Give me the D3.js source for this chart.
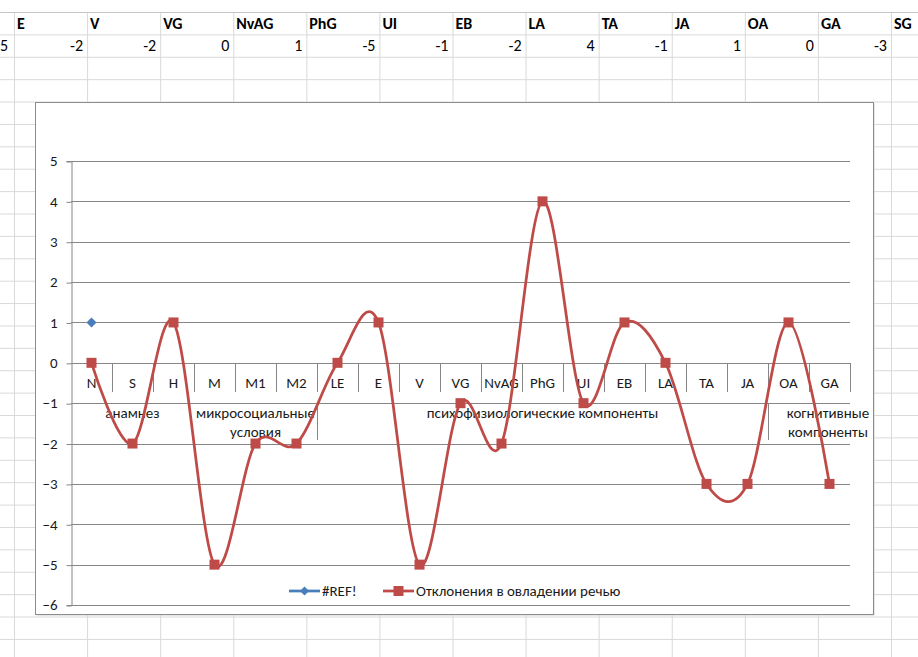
<!DOCTYPE html>
<html>
<head>
<meta charset="utf-8">
<script src="https://cdn.jsdelivr.net/npm/d3@7"></script>
<style>
  body { margin: 0; background: #fff; }
  svg text { font-family: Calibri, Carlito, "Noto Sans", sans-serif; }
</style>
</head>
<body>
<div id="chart"></div>
<script>
// spreadsheet row above the chart
var sheetHeaders = ["E", "V", "VG", "NvAG", "PhG", "UI", "EB", "LA", "TA", "JA", "OA", "GA", "SG"];
var sheetValues = [-2, -2, 0, 1, -5, -1, -2, 4, -1, 1, 0, -3];

// chart data
var categories = ["N", "S", "H", "M", "M1", "M2", "LE", "E", "V", "VG", "NvAG", "PhG", "UI", "EB", "LA", "TA", "JA", "OA", "GA"];
var speechValues = [0, -2, 1, -5, -2, -2, 0, 1, -5, -1, -2, 4, -1, 1, 0, -3, -3, 1, -3];
var refValues = [1];   // "#REF!" series, only first point
var groups = [
  { name: ["анамнез"], from: 0, to: 2, shift: 0 },
  { name: ["микросоциальные", "условия"], from: 3, to: 5, shift: 0 },
  { name: ["психофизиологические компоненты"], from: 6, to: 16, shift: 0 },
  { name: ["когнитивные", "компоненты"], from: 17, to: 18, shift: 19 }
];
var yTicks = [5, 4, 3, 2, 1, 0, -1, -2, -3, -4, -5, -6];
var seriesNames = ["#REF!", "Отклонения в овладении речью"];

var W = 918, H = 657;
var red = "#be4b48", blue = "#4a7ebb";
var fs = "15px";

var svg = d3.select("#chart").append("svg")
  .attr("width", W).attr("height", H);

// ---- spreadsheet grid in the background
var colW = 73.08, col0 = 14, rowH = 22.39, row0 = 12;
var grid = svg.append("g");
for (var i = 0; i < 14; i++) {
  grid.append("line")
    .attr("x1", col0 + i * colW + 0.5).attr("x2", col0 + i * colW + 0.5)
    .attr("y1", row0).attr("y2", H)
    .attr("stroke", "#d9d9d9");
}
for (var r = 0; r < 30; r++) {
  grid.append("line")
    .attr("x1", 0).attr("x2", W)
    .attr("y1", row0 + r * rowH + 0.5).attr("y2", row0 + r * rowH + 0.5)
    .attr("stroke", r == 0 ? "#c6c6c6" : "#d9d9d9");
}
grid.selectAll("text.hdr")
  .data(sheetHeaders)
  .enter().append("text")
  .attr("class", "hdr")
  .attr("x", function (d, i) { return col0 + i * colW + 3; })
  .attr("y", 29)
  .style("font-size", "16px")
  .style("font-weight", "bold")
  .text(function (d) { return d; });
grid.selectAll("text.val")
  .data(sheetValues)
  .enter().append("text")
  .attr("class", "val")
  .attr("x", function (d, i) { return col0 + (i + 1) * colW - 4; })
  .attr("y", 51)
  .attr("text-anchor", "end")
  .style("font-size", "16px")
  .text(function (d) { return d; });
// value of the previous column, only its tail is visible
grid.append("text")
  .attr("x", 8).attr("y", 51)
  .attr("text-anchor", "end")
  .style("font-size", "16px")
  .text("5");

// ---- chart box
svg.append("rect")
  .attr("x", 36.5).attr("y", 103.5)
  .attr("width", 838).attr("height", 512)
  .attr("fill", "#d0d0d0");
svg.append("rect")
  .attr("x", 35.5).attr("y", 102.5)
  .attr("width", 838).attr("height", 512)
  .attr("fill", "white")
  .attr("stroke", "#8c8c8c");

var x = d3.scaleBand().domain(categories).range([71, 850]);
var y = d3.scaleLinear().domain([-6, 5]).range([605, 161]);

// horizontal gridlines
svg.append("g")
  .selectAll("line")
  .data(yTicks)
  .enter().append("line")
  .attr("x1", 71).attr("x2", 850)
  .attr("y1", function (d) { return Math.round(y(d)) + 0.5; })
  .attr("y2", function (d) { return Math.round(y(d)) + 0.5; })
  .attr("stroke", "#868686");

// y axis
var yAxis = svg.append("g")
  .attr("transform", "translate(71.5,0)")
  .call(d3.axisLeft(y).tickValues(yTicks).tickSize(5).tickPadding(9).tickFormat(d3.format("d")));
yAxis.select(".domain").attr("stroke", "#868686");
yAxis.selectAll(".tick line").attr("stroke", "#868686")
  .attr("transform", "translate(0,0.5)");
yAxis.selectAll("text").style("font-size", fs).style("font-family", null).attr("fill", "#1a1a1a");

// category axis (crosses at 0)
var y0 = Math.round(y(0));
var catAxis = svg.append("g");
catAxis.selectAll("line")
  .data(d3.range(1, categories.length + 1))
  .enter().append("line")
  .attr("x1", function (i) { return Math.round(x.range()[0] + i * x.bandwidth()) + 0.5; })
  .attr("x2", function (i) { return Math.round(x.range()[0] + i * x.bandwidth()) + 0.5; })
  .attr("y1", y0).attr("y2", y0 + 29)
  .attr("stroke", "#868686");
catAxis.selectAll("text")
  .data(categories)
  .enter().append("text")
  .attr("x", function (d) { return x(d) + x.bandwidth() / 2; })
  .attr("y", y0 + 25)
  .attr("text-anchor", "middle")
  .style("font-size", fs)
  .attr("fill", "#1a1a1a")
  .text(function (d) { return d; });

// second level: group dividers and labels
[groups[1].to + 1, groups[2].to + 1].forEach(function (i) {
  var gx = Math.round(x.range()[0] + i * x.bandwidth()) + 0.5;
  catAxis.append("line")
    .attr("x1", gx).attr("x2", gx)
    .attr("y1", y0 + 40).attr("y2", y0 + 77)
    .attr("stroke", "#868686");
});
groups.forEach(function (g) {
  var cx = (x(categories[g.from]) + x(categories[g.to]) + x.bandwidth()) / 2 + g.shift;
  g.name.forEach(function (line, k) {
    catAxis.append("text")
      .attr("x", cx)
      .attr("y", y0 + 55 + k * 19)
      .attr("text-anchor", "middle")
      .style("font-size", fs)
      .attr("fill", "#1a1a1a")
      .text(line);
  });
});

// smooth line series
var cx = function (d, i) { return x(categories[i]) + x.bandwidth() / 2; };
svg.append("path")
  .datum(speechValues)
  .attr("fill", "none")
  .attr("stroke", red)
  .attr("stroke-width", 2.75)
  .attr("d", d3.line()
    .curve(d3.curveCatmullRom.alpha(0))
    .x(cx)
    .y(function (d) { return y(d); }));

svg.append("g")
  .selectAll("rect")
  .data(speechValues)
  .enter().append("rect")
  .attr("x", function (d, i) { return cx(d, i) - 5; })
  .attr("y", function (d) { return y(d) - 5; })
  .attr("width", 10).attr("height", 10)
  .attr("fill", red);

function diamond(px, py, s) {
  return "M" + px + "," + (py - s) + "L" + (px + s) + "," + py + "L" + px + "," + (py + s) + "L" + (px - s) + "," + py + "Z";
}
svg.append("g")
  .selectAll("path")
  .data(refValues)
  .enter().append("path")
  .attr("d", function (d, i) { return diamond(cx(d, i), y(d), 5); })
  .attr("fill", blue);

// legend
var legY = 591;
var leg = svg.append("g");
leg.append("line").attr("x1", 289).attr("x2", 320).attr("y1", legY).attr("y2", legY)
  .attr("stroke", blue).attr("stroke-width", 2.75);
leg.append("path").attr("d", diamond(304.5, legY, 4.5)).attr("fill", blue);
leg.append("text").attr("x", 322).attr("y", legY + 5)
  .style("font-size", fs).attr("fill", "#1a1a1a").text(seriesNames[0]);
leg.append("line").attr("x1", 383).attr("x2", 414).attr("y1", legY).attr("y2", legY)
  .attr("stroke", red).attr("stroke-width", 2.75);
leg.append("rect").attr("x", 393.5).attr("y", legY - 5).attr("width", 10).attr("height", 10).attr("fill", red);
leg.append("text").attr("x", 416).attr("y", legY + 5)
  .style("font-size", fs).attr("fill", "#1a1a1a").text(seriesNames[1]);
</script>
</body>
</html>
